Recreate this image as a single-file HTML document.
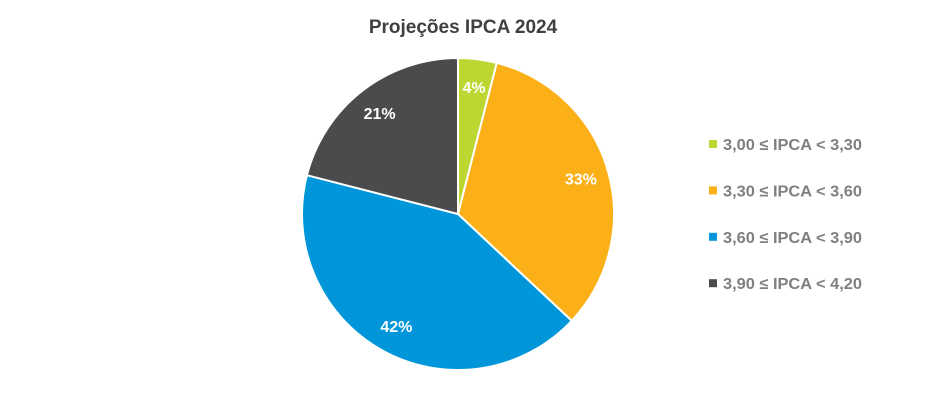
<!DOCTYPE html>
<html><head><meta charset="utf-8"><style>
body{margin:0;background:#fff;}
svg{display:block;font-family:"Liberation Sans",sans-serif;}
</style></head><body>
<svg id="chart" width="926" height="414" viewBox="0 0 926 414">
<text x="463" y="33" text-anchor="middle" font-size="19" font-weight="bold" fill="#404040">Projeções IPCA 2024</text>
<g id="slices"></g>
<g id="labels"></g>
<g id="legend"></g>
</svg>
<script>
const categories = ["3,00 ≤ IPCA < 3,30","3,30 ≤ IPCA < 3,60","3,60 ≤ IPCA < 3,90","3,90 ≤ IPCA < 4,20"];
const values = [4, 33, 42, 21];
const colors = ["#bdd631","#fbb017","#0096d9","#4a4b4d"];
const NS="http://www.w3.org/2000/svg";
const cx=458, cy=214, r=156;
const total=values.reduce((a,b)=>a+b,0);
const sl=document.getElementById('slices'), lb=document.getElementById('labels'), lg=document.getElementById('legend');
function pt(a,rr){return [cx+rr*Math.sin(a), cy-rr*Math.cos(a)];}
let acc=0;
values.forEach((v,i)=>{
  const a0=acc/total*2*Math.PI; acc+=v; const a1=acc/total*2*Math.PI;
  const p0=pt(a0,r), p1=pt(a1,r);
  const large=(a1-a0)>Math.PI?1:0;
  const p=document.createElementNS(NS,'path');
  p.setAttribute('d',`M${cx},${cy}L${p0[0]},${p0[1]}A${r},${r} 0 ${large} 1 ${p1[0]},${p1[1]}Z`);
  p.setAttribute('fill',colors[i]); p.setAttribute('stroke','#fff'); p.setAttribute('stroke-width','2');
  
  
  sl.appendChild(p);
  const m=(a0+a1)/2, lp=pt(m,r*0.82);
  const t=document.createElementNS(NS,'text');
  t.setAttribute('x',lp[0]); t.setAttribute('y',lp[1]+6);
  t.setAttribute('text-anchor','middle'); t.setAttribute('font-size','16'); t.setAttribute('font-weight','bold'); t.setAttribute('fill','#fff');
  t.textContent=v+'%';
  
  
  lb.appendChild(t);
  const y=144+i*46.4;
  const s=document.createElementNS(NS,'rect');
  s.setAttribute('x',709); s.setAttribute('y',y-4); s.setAttribute('width',8); s.setAttribute('height',8); s.setAttribute('fill',colors[i]);
  
  
  lg.appendChild(s);
  const lt=document.createElementNS(NS,'text');
  lt.setAttribute('x',723); lt.setAttribute('y',y+6); lt.setAttribute('font-size','16'); lt.setAttribute('font-weight','bold'); lt.setAttribute('fill','#7f7f7f');
  lt.setAttribute('textLength','139'); lt.setAttribute('lengthAdjust','spacingAndGlyphs');
  lt.textContent=categories[i];
  
  
  lg.appendChild(lt);
});
</script>
</body></html>
